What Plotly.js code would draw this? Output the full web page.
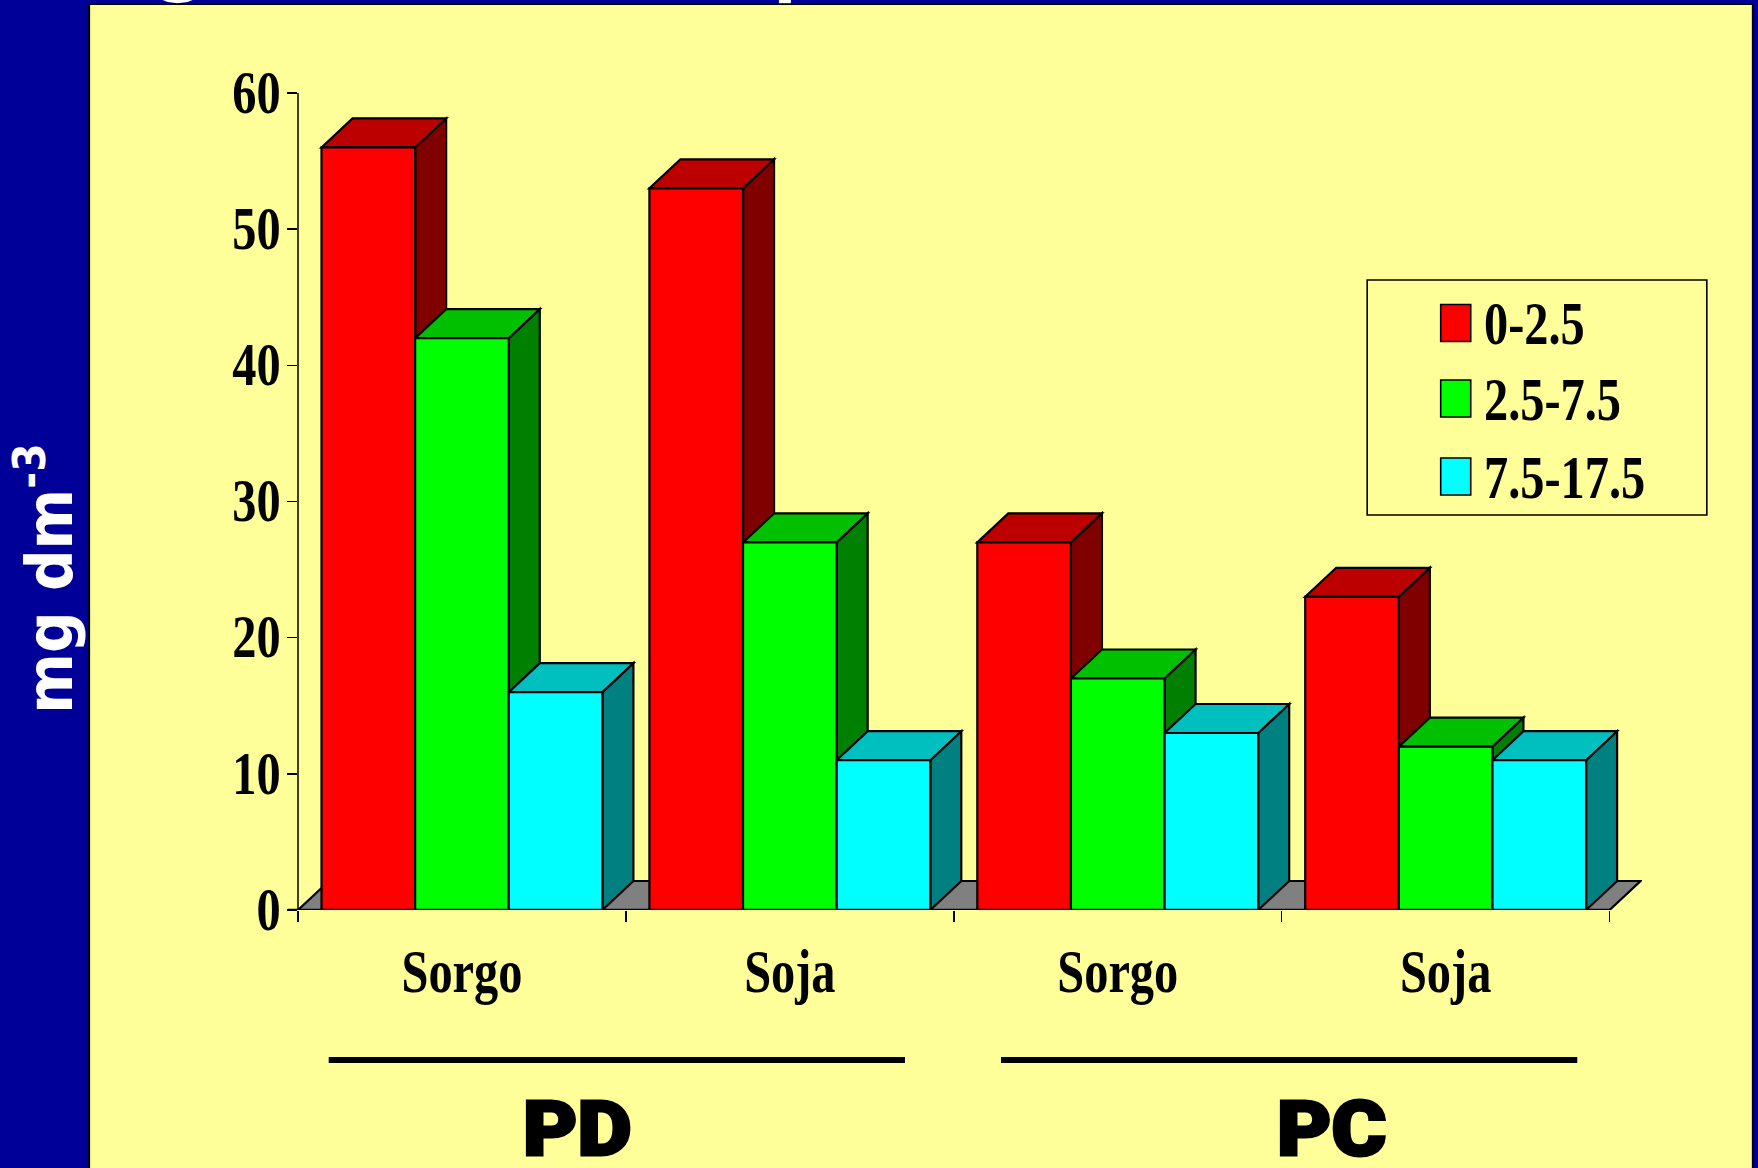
<!DOCTYPE html>
<html>
<head>
<meta charset="utf-8">
<script src="https://cdn.plot.ly/plotly-3.0.1.min.js"></script>
<style>html,body{margin:0;padding:0;background:#000099;overflow:hidden}</style>
</head>
<body>
<div id="chart" style="width:1758px;height:1168px"></div>
<script>
// Soil content by depth layer, for two crops under two management systems
const cropLabels = ['Sorgo', 'Soja', 'Sorgo', 'Soja'];
const depth0to2_5 = [56, 53, 27, 23];
const depth2_5to7_5 = [42, 27, 17, 12];
const depth7_5to17_5 = [16, 11, 13, 11];
const seriesNames = ['0-2.5', '2.5-7.5', '7.5-17.5'];
const yTicks = [0, 10, 20, 30, 40, 50, 60];
const groupNames = ['PD', 'PC'];
const unitLabel = 'mg dm<sup>-3</sup>';

const frontColors = ['#FF0000', '#00FF00', '#00FFFF'];
const sideColors = ['#800000', '#008000', '#008080'];
const topColors = ['#BC0000', '#00C000', '#00BFBF'];

const W = 1758, H = 1168;
const plotL = 298.3, plotT = 93, plotR = 1641.7, plotB = 910;
const catWidthPx = 327.75;            // pixels per category
const xMin = -0.5, xMax = 3.5 + (plotR - 1609.3) / catWidthPx;
const barGap = 47 / catWidthPx;
const barW = (1 - barGap) / 3;
const depthX = 31 / catWidthPx;       // extrusion of the 3D look, x units
const depthY = 29 / ((plotB - plotT) / 60); // extrusion, y units

const px = v => (v - plotL) / (plotR - plotL);
const py = v => (plotB - v) / (plotB - plotT);
const xIdx = cropLabels.map((_, i) => i);
const seriesValues = [depth0to2_5, depth2_5to7_5, depth7_5to17_5];

const traces = seriesValues.map((vals, s) => ({
  type: 'bar', name: seriesNames[s], x: xIdx, y: vals,
  marker: {color: frontColors[s], line: {color: '#000', width: 2.2}},
  hoverinfo: 'x+y'
}));

const poly = pts => 'M' + pts.map(p => p[0] + ',' + p[1]).join('L') + 'Z';
const shapes = [];

// Slide panel behind the chart
shapes.push({type: 'rect', xref: 'paper', yref: 'paper', layer: 'below',
  x0: px(89.5), x1: px(1752.5), y0: py(4), y1: py(1180),
  fillcolor: '#FFFF99', line: {color: '#000', width: 2}});

// Bottoms of the slide heading that runs off the top edge
shapes.push({type: 'path', xref: 'paper', yref: 'paper', layer: 'below',
  path: poly([[px(163), py(0)], [px(168), py(2)], [px(178), py(3.2)], [px(188), py(2)], [px(193), py(0)]]),
  fillcolor: '#fff', line: {width: 0}});
shapes.push({type: 'rect', xref: 'paper', yref: 'paper', layer: 'below',
  x0: px(779), x1: px(791), y0: py(0), y1: py(3.2), fillcolor: '#fff', line: {width: 0}});

// Chart floor
shapes.push({type: 'path', xref: 'x', yref: 'y', layer: 'below',
  path: poly([[xMin, 0], [xMin + depthX, depthY], [3.5 + depthX, depthY], [3.5, 0]]),
  fillcolor: '#808080', line: {color: '#000', width: 2.2}});

// Side and top faces of each column, painted left to right under the fronts
xIdx.forEach(i => {
  seriesValues.forEach((vals, s) => {
    const v = vals[i];
    const x0 = i + (s - 1.5) * barW, x1 = x0 + barW;
    shapes.push({type: 'path', xref: 'x', yref: 'y', layer: 'below',
      path: poly([[x1, 0], [x1 + depthX, depthY], [x1 + depthX, v + depthY], [x1, v]]),
      fillcolor: sideColors[s], line: {color: '#000', width: 2.2}});
    shapes.push({type: 'path', xref: 'x', yref: 'y', layer: 'below',
      path: poly([[x0, v], [x0 + depthX, v + depthY], [x1 + depthX, v + depthY], [x1, v]]),
      fillcolor: topColors[s], line: {color: '#000', width: 2.2}});
  });
});

// Value axis line and baseline of the category axis
shapes.push({type: 'line', xref: 'paper', yref: 'paper', layer: 'above',
  x0: px(plotL), x1: px(plotL), y0: py(plotT), y1: py(plotB), line: {color: '#000', width: 1.5}});
shapes.push({type: 'line', xref: 'paper', yref: 'y', layer: 'above',
  x0: px(plotL - 10), x1: px(1609.3), y0: 0, y1: 0, line: {color: '#000', width: 2.5}});

// Rules under the category labels
[[329, 905], [1001, 1577]].forEach(r => shapes.push({type: 'line', xref: 'paper', yref: 'paper',
  layer: 'above', x0: px(r[0]), x1: px(r[1]), y0: py(1060), y1: py(1060),
  line: {color: '#000', width: 6}}));

// Legend box and swatches
shapes.push({type: 'rect', xref: 'paper', yref: 'paper', layer: 'above',
  x0: px(1367), x1: px(1706.5), y0: py(280), y1: py(515),
  fillcolor: '#FFFF99', line: {color: '#000', width: 1.6}});
const legendTops = [304.5, 380, 458];
seriesNames.forEach((_, s) => shapes.push({type: 'rect', xref: 'paper', yref: 'paper', layer: 'above',
  x0: px(1440.5), x1: px(1470.5), y0: py(legendTops[s]), y1: py(legendTops[s] + 37),
  fillcolor: frontColors[s], line: {color: '#000', width: 1.6}}));

const annotations = [];
seriesNames.forEach((name, s) => annotations.push({
  xref: 'paper', yref: 'paper', x: px(1483), y: py(legendTops[s] + 18.5),
  xanchor: 'left', yanchor: 'middle', align: 'left', showarrow: false, borderpad: 0, text: name,
  font: {family: 'Liberation Serif', size: 62, color: '#000', weight: 700}
}));
groupNames.forEach((name, g) => annotations.push({
  xref: 'paper', yref: 'paper', x: px([578, 1331][g]), y: py(1129),
  xanchor: 'center', yanchor: 'middle', showarrow: false, text: name, borderpad: 0,
  font: {family: 'Roboto', size: 76, color: '#000', weight: 900}
}));
annotations.push({
  xref: 'paper', yref: 'paper', x: px(45.5), y: py(579), textangle: -90,
  xanchor: 'center', yanchor: 'middle', showarrow: false, text: unitLabel, borderpad: 0,
  font: {family: 'DejaVu Sans', size: 64, color: '#fff', weight: 700}
});

const layout = {
  width: W, height: H, showlegend: false,
  margin: {l: plotL, t: plotT, r: W - plotR, b: H - plotB, pad: 0},
  paper_bgcolor: '#000099', plot_bgcolor: 'rgba(0,0,0,0)',
  barmode: 'group', bargap: barGap, bargroupgap: 0,
  xaxis: {
    range: [xMin, xMax], showgrid: false, zeroline: false, showline: false,
    tickmode: 'array', tickvals: xIdx, ticktext: cropLabels, ticks: '', ticklen: 0,
    ticklabelstandoff: 19,
    tickfont: {family: 'Liberation Serif', size: 62, color: '#000', weight: 700},
    minor: {tickmode: 'array', tickvals: [-0.5, 0.5, 1.5, 2.5, 3.5], ticks: 'outside',
      ticklen: 11, tickwidth: 1.5, tickcolor: '#000', showgrid: false}
  },
  yaxis: {
    range: [0, 60], tickmode: 'array', tickvals: yTicks, showgrid: false, zeroline: false,
    showline: false, ticklabelstandoff: -6,
    ticks: 'outside', ticklen: 10, tickwidth: 1.5, tickcolor: '#000',
    tickfont: {family: 'Liberation Serif', size: 62, color: '#000', weight: 700}
  },
  shapes, annotations
};

// The slide's lettering is set narrow; squeeze glyph widths while keeping anchors
function narrowText() {
  const root = document.getElementById('chart');
  root.querySelectorAll('.xtick text, .ytick text, .annotation-text').forEach(t => {
    if (t.hasAttribute('textLength')) return;
    const txt = t.textContent;
    let k = 0.78, heavy = false;
    if (groupNames.includes(txt)) { k = 1.1; heavy = true; }
    else if (txt.indexOf('mg') === 0) { k = 0.91; }
    t.setAttribute('textLength', (t.getComputedTextLength() * k).toFixed(1));
    t.setAttribute('lengthAdjust', 'spacingAndGlyphs');
    if (heavy) { t.style.stroke = '#000'; t.style.strokeWidth = '3px'; }
  });
  root.querySelectorAll('.ytick text').forEach(t => t.setAttribute('dy', '-2'));
}

Plotly.newPlot('chart', traces, layout, {staticPlot: true, displayModeBar: false}).then(narrowText);
</script>
</body>
</html>
